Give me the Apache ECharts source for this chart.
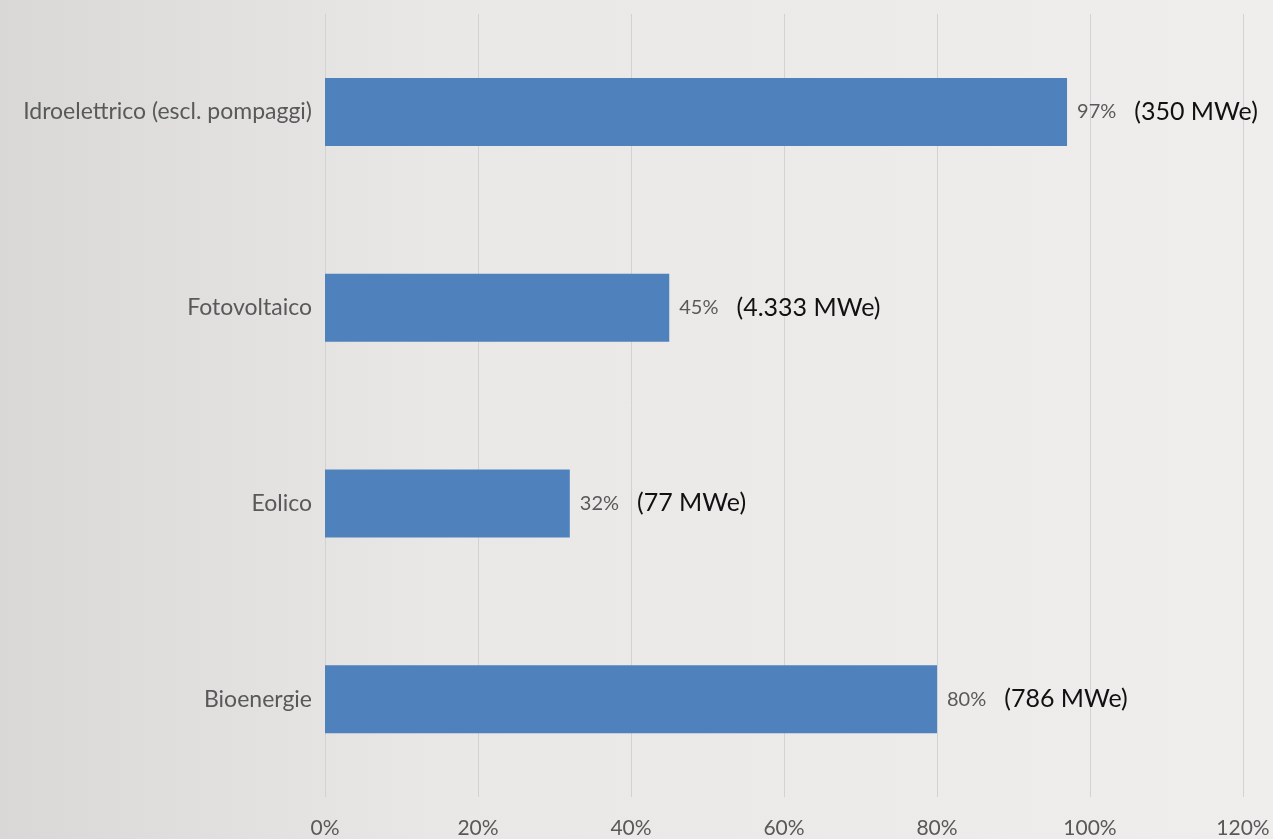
<!DOCTYPE html>
<html>
<head>
<meta charset="utf-8">
<script src="https://cdn.jsdelivr.net/npm/echarts@6/dist/echarts.min.js"></script>
<style>
  html, body { margin: 0; padding: 0; }
  #chart { width: 1273px; height: 839px; }
</style>
</head>
<body>
<div id="chart"></div>
<script>
// dati
const categories = ['Idroelettrico (escl. pompaggi)', 'Fotovoltaico', 'Eolico', 'Bioenergie'];
const shares = [97, 45, 32, 80];
const capacities = ['350 MWe', '4.333 MWe', '77 MWe', '786 MWe'];
const xTicks = [0, 20, 40, 60, 80, 100, 120];

const myChart = echarts.init(document.getElementById('chart'));
const option = {
    backgroundColor: {
        type: 'linear', x: 0, y: 0, x2: 1, y2: 0,
        colorStops: [
            { offset: 0, color: '#d9d8d7' },
            { offset: 0.35, color: '#e9e8e7' },
            { offset: 1, color: '#efeeed' }
        ]
    },
    textStyle: { fontFamily: 'Lato, "Open Sans", sans-serif' },
    grid: { left: 325, right: 30, top: 14, bottom: 41 },
    xAxis: {
        type: 'value',
        min: xTicks[0],
        max: xTicks[xTicks.length - 1],
        interval: 20,
        axisLine: { show: false },
        axisTick: { show: false },
        splitLine: { lineStyle: { color: '#d2d2d2', width: 1 } },
        axisLabel: {
            color: '#595959',
            fontSize: 21,
            margin: 21,
            formatter: '{value}%'
        }
    },
    yAxis: {
        type: 'category',
        data: categories,
        inverse: true,
        axisLine: { show: false },
        axisTick: { show: false },
        axisLabel: { color: '#595959', fontSize: 23, margin: 13 }
    },
    series: [{
        type: 'bar',
        data: shares,
        barWidth: 68,
        itemStyle: { color: '#4f81bd' },
        label: {
            show: true,
            position: 'right',
            distance: 10,
            formatter: function (p) {
                return '{p|' + p.value + '%}{c|(' + capacities[p.dataIndex] + ')}';
            },
            rich: {
                p: { color: '#595959', fontSize: 20, padding: [0, 18, 0, 0] },
                c: { color: '#111111', fontSize: 25 }
            }
        }
    }]
};
myChart.setOption(option);
</script>
</body>
</html>
